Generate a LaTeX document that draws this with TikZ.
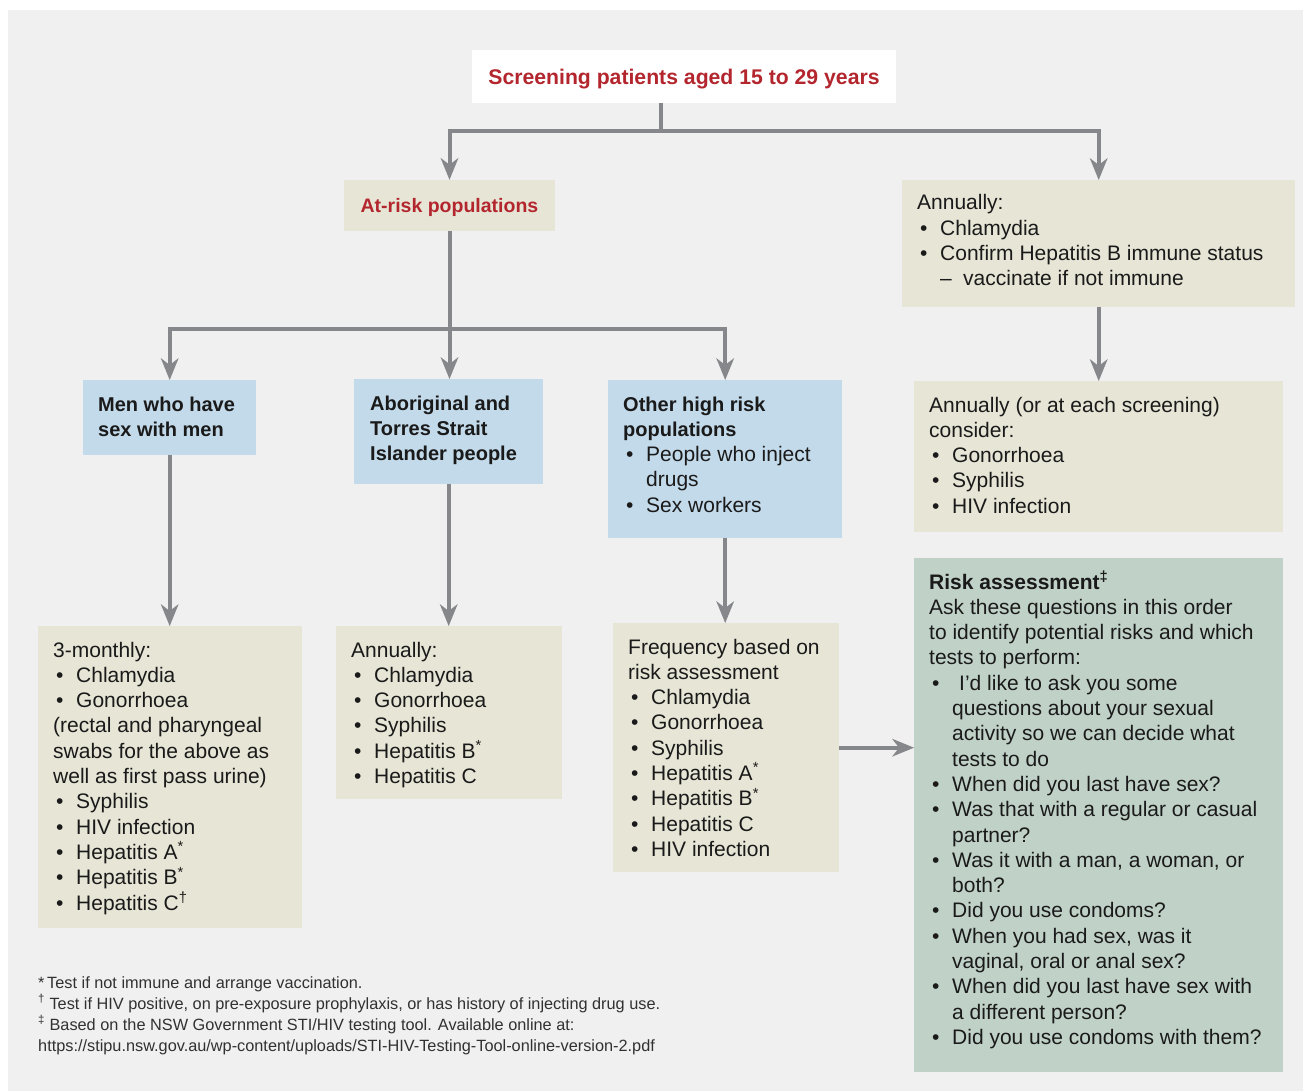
\documentclass[tikz,border=0pt]{standalone}
\usepackage{fontspec}
\setmainfont{Liberation Sans}
\usetikzlibrary{arrows.meta, positioning}
\definecolor{bggray}{HTML}{F0F0F0}
\definecolor{beige}{HTML}{E7E5D6}
\definecolor{lightblue}{HTML}{C3DAEA}
\definecolor{sage}{HTML}{C0D1C7}
\definecolor{titlered}{HTML}{B3262E}
\definecolor{linegray}{HTML}{86878B}
\definecolor{ink}{HTML}{1A1A1A}
% list helpers
\newcommand\bitem[1]{\par\hangindent=23pt\hangafter=1\makebox[23pt][l]{\hspace{3pt}\textbullet}#1}
\newcommand\ditem[1]{\par\hangindent=46pt\hangafter=1\hspace*{23pt}\makebox[23pt][l]{--}#1}
\newcommand\boxtext[2]{\begin{minipage}[t]{#1pt}\setlength{\parindent}{0pt}#2\end{minipage}}
\begin{document}
\begin{tikzpicture}[x=1pt, y=-1pt,
  box/.style={inner sep=0, anchor=north west},
  beigebox/.style={box, fill=beige},
  bluebox/.style={box, fill=lightblue},
  txt/.style={inner sep=0, anchor=base west, text=ink, font=\fontsize{21}{25.3}\selectfont},
  headtxt/.style={txt, font=\fontsize{20}{25.3}\selectfont\bfseries},
  conn/.style={draw=linegray, line width=4pt},
  arr/.style={conn, -{Stealth[length=22pt, width=18pt, inset=7pt, line width=0pt]}}]
\useasboundingbox (0,0) rectangle (1303,1091);
\fill [white] (0,0) rectangle (1303,1091);
\fill [bggray] (8,10) rectangle (1303,1091);
%% top of the tree
\node (title) [fill=white, minimum width=424, minimum height=53, inner sep=0, text depth=0pt, text=titlered,
  font=\fontsize{21.2}{25}\selectfont\bfseries] at (684,76.5) {Screening patients aged 15 to 29 years};
\node (atrisk) [fill=beige, minimum width=211, minimum height=51, inner sep=0, text depth=0pt, text=titlered,
  font=\fontsize{19.5}{24}\selectfont\bfseries] at (449.5,205.5) {At-risk populations};
\node (ann1) [beigebox, minimum width=393, minimum height=127] at (902,180) {};
\node (ann1t) [txt] at (917,210) {\boxtext{370}{Annually:
  \bitem{Chlamydia}
  \bitem{Confirm Hepatitis B immune status}
  \ditem{vaccinate if not immune}}};
\node (ann2) [beigebox, minimum width=369, minimum height=151] at (914,381) {};
\node (ann2t) [txt] at (929,412) {\boxtext{350}{Annually (or at each screening)\\consider:
  \bitem{Gonorrhoea}
  \bitem{Syphilis}
  \bitem{HIV infection}}};
\node (risk) [box, fill=sage, minimum width=369, minimum height=514] at (914,558) {};
\node (riskt) [txt] at (929,589) {\boxtext{360}{\textbf{Risk assessment\textsuperscript{‡}}\\Ask these questions in this order\\to identify potential risks and which\\tests to perform:
  \bitem{\hspace{7pt}I’d like to ask you some\\questions about your sexual\\activity so we can decide what\\tests to do}
  \bitem{When did you last have sex?}
  \bitem{Was that with a regular or casual\\partner?}
  \bitem{Was it with a man, a woman, or\\both?}
  \bitem{Did you use condoms?}
  \bitem{When you had sex, was it\\vaginal, oral or anal sex?}
  \bitem{When did you last have sex with\\a different person?}
  \bitem{Did you use condoms with them?}}};
%% populations
\node (msm) [bluebox, minimum width=173, minimum height=75] at (83,380) {};
\node (msmt) [headtxt] at (98,411) {\boxtext{160}{Men who have\\sex with men}};
\node (abor) [bluebox, minimum width=189, minimum height=105] at (354,379) {};
\node (abort) [headtxt] at (370,410) {\boxtext{170}{Aboriginal and\\Torres Strait\\Islander people}};
\node (oth) [bluebox, minimum width=234, minimum height=158] at (608,380) {};
\node (otht) [txt] at (623,411) {\boxtext{215}{{\fontsize{20}{25.3}\selectfont\bfseries Other high risk\\populations}
  \bitem{People who inject\\drugs}
  \bitem{Sex workers}}};
%% tests
\node (mon) [beigebox, minimum width=264, minimum height=302] at (38,626) {};
\node (mont) [txt] at (53,657) {\boxtext{245}{3-monthly:
  \bitem{Chlamydia}
  \bitem{Gonorrhoea}
  \par(rectal and pharyngeal\\swabs for the above as\\well as first pass urine)
  \bitem{Syphilis}
  \bitem{HIV infection}
  \bitem{Hepatitis A\textsuperscript{*}}
  \bitem{Hepatitis B\textsuperscript{*}}
  \bitem{Hepatitis C\textsuperscript{†}}}};
\node (annab) [beigebox, minimum width=226, minimum height=173] at (336,626) {};
\node (annabt) [txt] at (351,657) {\boxtext{205}{Annually:
  \bitem{Chlamydia}
  \bitem{Gonorrhoea}
  \bitem{Syphilis}
  \bitem{Hepatitis B\textsuperscript{*}}
  \bitem{Hepatitis C}}};
\node (freq) [beigebox, minimum width=226, minimum height=249] at (613,623) {};
\node (freqt) [txt] at (628,654) {\boxtext{210}{Frequency based on\\risk assessment
  \bitem{Chlamydia}
  \bitem{Gonorrhoea}
  \bitem{Syphilis}
  \bitem{Hepatitis A\textsuperscript{*}}
  \bitem{Hepatitis B\textsuperscript{*}}
  \bitem{Hepatitis C}
  \bitem{HIV infection}}};
%% footnotes
\node (notes) [txt, text=ink!90, font=\fontsize{16.3}{21}\selectfont] at (38,988) {\boxtext{700}{*\,Test if not immune and arrange vaccination.\\
  \textsuperscript{†} Test if HIV positive, on pre-exposure prophylaxis, or has history of injecting drug use.\\
  \textsuperscript{‡} Based on the NSW Government STI/HIV testing tool. Available online at:\\
  https://stipu.nsw.gov.au/wp-content/uploads/STI-HIV-Testing-Tool-online-version-2.pdf}};
%% connectors
\coordinate (tb) at (661,131);
\draw [conn] (title.south -| tb) -- (tb);
\draw [arr] (tb) -| (atrisk.north);
\draw [arr] (tb) -| (ann1.north);
\coordinate (ab) at (449.5,329);
\draw [conn] (atrisk.south) -- (ab);
\draw [arr] (ab) -| (msm.north);
\draw [arr] (ab) -- (abor.north -| ab);
\draw [arr] (ab) -| (oth.north);
\draw [arr] (ann1.south) -- (ann2.north);
\draw [arr] (msm.south) -- (mon.north -| msm.south);
\draw [arr] (abor.south) -- (annab.north -| abor.south);
\draw [arr] (oth.south) -- (freq.north -| oth.south);
\draw [arr] (freq.east) -- (freq.east -| risk.west);
\end{tikzpicture}
\end{document}
